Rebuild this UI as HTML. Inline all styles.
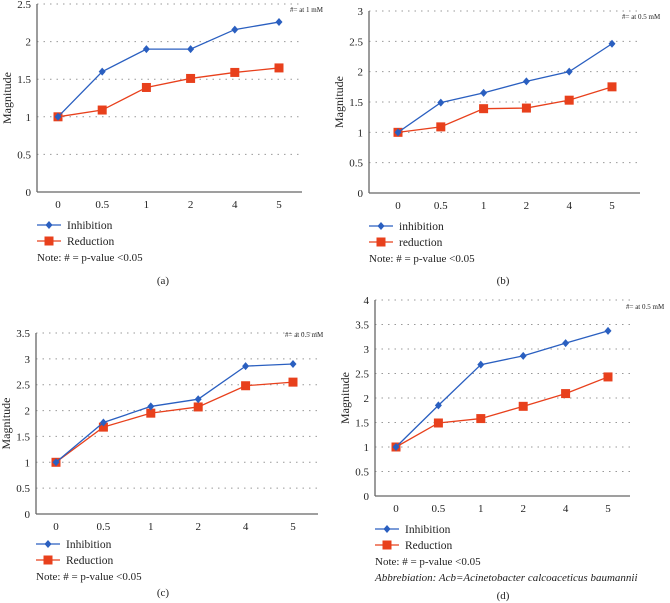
<!DOCTYPE html>
<html><head><meta charset="utf-8"><style>
body{margin:0;background:#fff;width:670px;height:603px;overflow:hidden;font-family:"Liberation Serif",serif;}
svg{position:absolute;left:0;top:0}
</style></head><body>
<svg id="c" width="670" height="603"></svg>
<script>
const categories=["0","0.5","1","2","4","5"];
const inhA=[1,1.6,1.9,1.9,2.16,2.26];
const redA=[1,1.09,1.39,1.51,1.59,1.65];
const inhB=[1,1.49,1.65,1.84,2.0,2.46];
const redB=[1,1.09,1.39,1.4,1.53,1.75];
const inhC=[1,1.77,2.08,2.22,2.86,2.9];
const redC=[1,1.68,1.95,2.07,2.48,2.55];
const inhD=[1,1.85,2.68,2.86,3.12,3.37];
const redD=[1,1.49,1.58,1.83,2.09,2.43];
const ticksA=[0,0.5,1,1.5,2,2.5];
const ticksB=[0,0.5,1,1.5,2,2.5,3];
const ticksC=[0,0.5,1,1.5,2,2.5,3,3.5];
const ticksD=[0,0.5,1,1.5,2,2.5,3,3.5,4];
const NS="http://www.w3.org/2000/svg";
const svg=document.getElementById('c');
function el(t,a,p){const e=document.createElementNS(NS,t);for(const k in a)e.setAttribute(k,a[k]);(p||svg).appendChild(e);return e;}
function txt(s,x,y,a,p){const e=el('text',Object.assign({x:x,y:y,'font-size':11,fill:'#222'},a||{}),p);e.textContent=s;return e;}
function panel(o){
 const g=el('g',{});
 
 
 const ymax=o.ticks[o.ticks.length-1];
 const Y=v=>o.y0-(v/ymax)*(o.y0-o.yTop);
 const X=i=>o.c0+i*(o.c5-o.c0)/(categories.length-1);
 o.ticks.forEach(t=>{
  if(t>0){const l=el('line',{x1:o.x0,x2:o.xEnd,y1:Y(t),y2:Y(t),stroke:'#999','stroke-dasharray':'1.5,5','stroke-width':1},g);
   }
  const tl=txt(String(t),o.x0-6,Y(t)+4,{'text-anchor':'end'},g);
  
 });
 const ax=el('line',{x1:o.x0,x2:o.xEnd,y1:o.y0,y2:o.y0,stroke:'#666','stroke-width':1.3},g);
 
 const ay=el('line',{x1:o.x0,x2:o.x0,y1:o.y0,y2:o.yTop,stroke:'#666','stroke-width':1.3},g);
 
 categories.forEach((c,i)=>{const t=txt(c,X(i),o.y0+16,{'text-anchor':'middle'},g);
  });
 const yt=txt('Magnitude',0,0,{transform:`translate(${o.x0-26},${(o.y0+o.yTop)/2}) rotate(-90)`,'text-anchor':'middle','font-size':12},g);
 
 const n=txt(o.note,o.noteX,o.noteY,{'font-size':7},g);
 
 [[o.red,'#e8401c','sq','reduction'],[o.inh,'#2a5fc0','di','inhibition']].forEach(s=>{
  const pts=s[0].map((v,i)=>X(i)+','+Y(v)).join(' ');
  const pl=el('polyline',{points:pts,fill:'none',stroke:s[1],'stroke-width':1.3},g);
  
  s[0].forEach((v,i)=>{let m;
   if(s[2]=='sq')m=el('rect',{x:X(i)-4.5,y:Y(v)-4.5,width:9,height:9,fill:s[1]},g);
   else m=el('polygon',{points:`${X(i)},${Y(v)-4} ${X(i)+3.5},${Y(v)} ${X(i)},${Y(v)+4} ${X(i)-3.5},${Y(v)}`,fill:s[1]},g);
   });
 });
 const lx=o.x0;
 [[o.legY,'#2a5fc0','di',o.l1],[o.legY+16,'#e8401c','sq',o.l2]].forEach(L=>{
  const lg=el('g',{},g);
  
  el('line',{x1:lx,x2:lx+24,y1:L[0],y2:L[0],stroke:L[1],'stroke-width':1.3},lg);
  if(L[2]=='sq')el('rect',{x:lx+7.5,y:L[0]-4.5,width:9,height:9,fill:L[1]},lg);
  else el('polygon',{points:`${lx+12},${L[0]-4} ${lx+15.5},${L[0]} ${lx+12},${L[0]+4} ${lx+8.5},${L[0]}`,fill:L[1]},lg);
  txt(L[3],lx+30,L[0]+4,{'font-size':11.5},lg);
 });
 const nt=txt('Note: # = p-value <0.05',lx,o.legY+36,{'font-size':11},g);
 
 if(o.abbr){const ab=txt('Abbrebiation: Acb=Acinetobacter calcoaceticus baumannii',lx,o.legY+52,{'font-size':11,'font-style':'italic'},g);
  }
 const cp=txt(o.cap,o.capX,o.capY,{'text-anchor':'middle','font-size':11},g);
 
}
panel({id:'a',inh:inhA,red:redA,ticks:ticksA,x0:37,xEnd:302,y0:192,yTop:4,c0:58,c5:279,note:'#= at 1 mM',noteX:290,noteY:12,legY:225,l1:'Inhibition',l2:'Reduction',cap:'(a)',capX:163,capY:284});
panel({id:'b',inh:inhB,red:redB,ticks:ticksB,x0:369,xEnd:640,y0:193,yTop:11,c0:398,c5:612,note:'#= at 0.5 mM',noteX:622,noteY:19,legY:226,l1:'inhibition',l2:'reduction',cap:'(b)',capX:503,capY:284});
panel({id:'c',inh:inhC,red:redC,ticks:ticksC,x0:36,xEnd:318,y0:514,yTop:333,c0:56,c5:293,note:'#= at 0.5 mM',noteX:285,noteY:337,legY:544,l1:'Inhibition',l2:'Reduction',cap:'(c)',capX:163,capY:596});
panel({id:'d',inh:inhD,red:redD,ticks:ticksD,x0:375,xEnd:630,y0:496,yTop:300,c0:396,c5:608,note:'#= at 0.5 mM',noteX:626,noteY:309,legY:529,l1:'Inhibition',l2:'Reduction',abbr:true,cap:'(d)',capX:503,capY:599});
</script>
</body></html>
